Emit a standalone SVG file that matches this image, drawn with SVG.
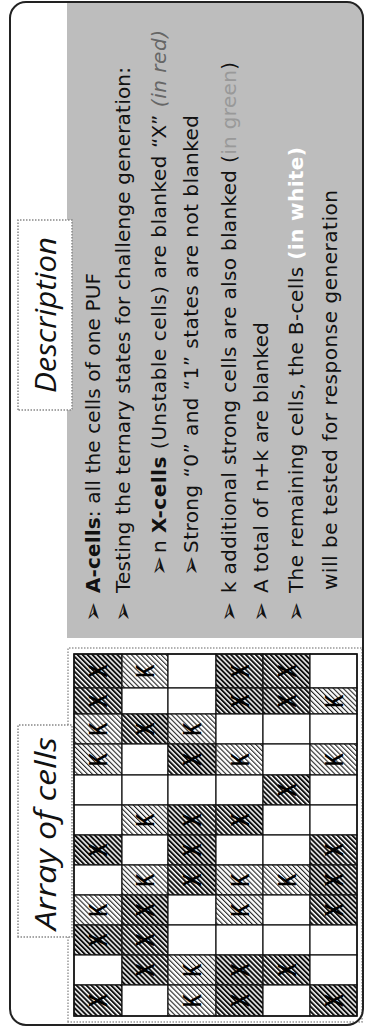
<svg xmlns="http://www.w3.org/2000/svg" width="367" height="1029" viewBox="0 0 367 1029">
<defs>
<pattern id="hx" width="3.5" height="3.5" patternUnits="userSpaceOnUse" patternTransform="rotate(45)">
<rect width="3.5" height="3.5" fill="#fff"/><rect width="2.0" height="3.5" fill="#111"/>
</pattern>
<pattern id="hk" width="3.5" height="3.5" patternUnits="userSpaceOnUse" patternTransform="rotate(45)">
<rect width="3.5" height="3.5" fill="#fff"/><rect width="1.1" height="3.5" fill="#222"/>
</pattern>
<clipPath id="outerClip"><rect x="4" y="10" width="1023" height="353" rx="16"/></clipPath>
</defs>
<style>
.t{font-family:"DejaVu Sans","Liberation Sans",sans-serif;font-size:20px;fill:#111}
.b{font-weight:bold}
.bul{font-family:"DejaVu Sans","Liberation Sans",sans-serif;font-size:24px;fill:#111}
.title{font-family:"Open Sans","Liberation Sans",sans-serif;font-style:italic;font-size:30px;fill:#111}
.box{fill:#fff;stroke:#888;stroke-width:1.5;stroke-dasharray:1.5 1.5}
.c{stroke:#111;stroke-width:1.2}
.w{fill:#fff}.x{fill:url(#hx)}.k{fill:url(#hk)}
.lt{font-family:"Liberation Sans","DejaVu Sans",sans-serif;font-weight:bold;font-size:26px;fill:#000;text-anchor:middle}
</style>
<g transform="translate(0,1029) rotate(-90)">
<g id="frame">
<rect x="4" y="10" width="1023" height="353" rx="16" fill="#fff"/>
<rect x="391" y="67" width="640" height="300" fill="#bdbdbd" clip-path="url(#outerClip)"/>
<rect x="7" y="68" width="374" height="294" fill="#fff" stroke="#999" stroke-width="1.5" stroke-dasharray="1.5 1.5"/>
<rect x="4" y="10" width="1023" height="353" rx="16" fill="none" stroke="#222" stroke-width="2"/>
</g>
<g id="title-array">
<rect class="box" x="92" y="18" width="212" height="54"/>
<text class="title" x="99" y="56" textLength="193" lengthAdjust="spacingAndGlyphs">Array of cells</text>
</g>
<g id="title-description">
<rect class="box" x="619" y="18" width="190" height="54"/>
<text class="title" x="636" y="56" textLength="156" lengthAdjust="spacingAndGlyphs">Description</text>
</g>
<g id="array">
<rect class="c x" x="341" y="74" width="34" height="48"/><rect class="c k" x="341" y="122" width="34" height="46"/><rect class="c w" x="341" y="168" width="34" height="48"/><rect class="c x" x="341" y="216" width="34" height="47"/><rect class="c x" x="341" y="263" width="34" height="47"/><rect class="c w" x="341" y="310" width="34" height="47"/>
<rect class="c x" x="315" y="74" width="26" height="48"/><rect class="c w" x="315" y="122" width="26" height="46"/><rect class="c w" x="315" y="168" width="26" height="48"/><rect class="c x" x="315" y="216" width="26" height="47"/><rect class="c x" x="315" y="263" width="26" height="47"/><rect class="c k" x="315" y="310" width="26" height="47"/>
<rect class="c k" x="285" y="74" width="30" height="48"/><rect class="c x" x="285" y="122" width="30" height="46"/><rect class="c k" x="285" y="168" width="30" height="48"/><rect class="c w" x="285" y="216" width="30" height="47"/><rect class="c w" x="285" y="263" width="30" height="47"/><rect class="c w" x="285" y="310" width="30" height="47"/>
<rect class="c k" x="254" y="74" width="31" height="48"/><rect class="c w" x="254" y="122" width="31" height="46"/><rect class="c x" x="254" y="168" width="31" height="48"/><rect class="c k" x="254" y="216" width="31" height="47"/><rect class="c w" x="254" y="263" width="31" height="47"/><rect class="c k" x="254" y="310" width="31" height="47"/>
<rect class="c w" x="224" y="74" width="30" height="48"/><rect class="c w" x="224" y="122" width="30" height="46"/><rect class="c w" x="224" y="168" width="30" height="48"/><rect class="c w" x="224" y="216" width="30" height="47"/><rect class="c x" x="224" y="263" width="30" height="47"/><rect class="c w" x="224" y="310" width="30" height="47"/>
<rect class="c w" x="194" y="74" width="30" height="48"/><rect class="c k" x="194" y="122" width="30" height="46"/><rect class="c x" x="194" y="168" width="30" height="48"/><rect class="c x" x="194" y="216" width="30" height="47"/><rect class="c w" x="194" y="263" width="30" height="47"/><rect class="c w" x="194" y="310" width="30" height="47"/>
<rect class="c x" x="164" y="74" width="30" height="48"/><rect class="c w" x="164" y="122" width="30" height="46"/><rect class="c x" x="164" y="168" width="30" height="48"/><rect class="c w" x="164" y="216" width="30" height="47"/><rect class="c w" x="164" y="263" width="30" height="47"/><rect class="c x" x="164" y="310" width="30" height="47"/>
<rect class="c w" x="134" y="74" width="30" height="48"/><rect class="c k" x="134" y="122" width="30" height="46"/><rect class="c x" x="134" y="168" width="30" height="48"/><rect class="c k" x="134" y="216" width="30" height="47"/><rect class="c k" x="134" y="263" width="30" height="47"/><rect class="c x" x="134" y="310" width="30" height="47"/>
<rect class="c k" x="104" y="74" width="30" height="48"/><rect class="c x" x="104" y="122" width="30" height="46"/><rect class="c w" x="104" y="168" width="30" height="48"/><rect class="c k" x="104" y="216" width="30" height="47"/><rect class="c w" x="104" y="263" width="30" height="47"/><rect class="c x" x="104" y="310" width="30" height="47"/>
<rect class="c x" x="74" y="74" width="30" height="48"/><rect class="c x" x="74" y="122" width="30" height="46"/><rect class="c w" x="74" y="168" width="30" height="48"/><rect class="c w" x="74" y="216" width="30" height="47"/><rect class="c w" x="74" y="263" width="30" height="47"/><rect class="c w" x="74" y="310" width="30" height="47"/>
<rect class="c w" x="44" y="74" width="30" height="48"/><rect class="c x" x="44" y="122" width="30" height="46"/><rect class="c k" x="44" y="168" width="30" height="48"/><rect class="c x" x="44" y="216" width="30" height="47"/><rect class="c x" x="44" y="263" width="30" height="47"/><rect class="c w" x="44" y="310" width="30" height="47"/>
<rect class="c x" x="13" y="74" width="31" height="48"/><rect class="c w" x="13" y="122" width="31" height="46"/><rect class="c k" x="13" y="168" width="31" height="48"/><rect class="c x" x="13" y="216" width="31" height="47"/><rect class="c w" x="13" y="263" width="31" height="47"/><rect class="c x" x="13" y="310" width="31" height="47"/>
<rect x="13" y="74" width="362" height="283" fill="none" stroke="#111" stroke-width="1.5"/>
<g id="letters">
<text class="lt" x="358" y="107" textLength="13" lengthAdjust="spacingAndGlyphs">X</text><text class="lt" x="358" y="154" textLength="13" lengthAdjust="spacingAndGlyphs">K</text><text class="lt" x="358" y="248.5" textLength="13" lengthAdjust="spacingAndGlyphs">X</text><text class="lt" x="358" y="295.5" textLength="13" lengthAdjust="spacingAndGlyphs">X</text>
<text class="lt" x="328" y="107" textLength="13" lengthAdjust="spacingAndGlyphs">X</text><text class="lt" x="328" y="248.5" textLength="13" lengthAdjust="spacingAndGlyphs">X</text><text class="lt" x="328" y="295.5" textLength="13" lengthAdjust="spacingAndGlyphs">X</text><text class="lt" x="328" y="342.5" textLength="13" lengthAdjust="spacingAndGlyphs">K</text>
<text class="lt" x="300" y="107" textLength="13" lengthAdjust="spacingAndGlyphs">K</text><text class="lt" x="300" y="154" textLength="13" lengthAdjust="spacingAndGlyphs">X</text><text class="lt" x="300" y="201" textLength="13" lengthAdjust="spacingAndGlyphs">K</text>
<text class="lt" x="269.5" y="107" textLength="13" lengthAdjust="spacingAndGlyphs">K</text><text class="lt" x="269.5" y="201" textLength="13" lengthAdjust="spacingAndGlyphs">X</text><text class="lt" x="269.5" y="248.5" textLength="13" lengthAdjust="spacingAndGlyphs">K</text><text class="lt" x="269.5" y="342.5" textLength="13" lengthAdjust="spacingAndGlyphs">K</text>
<text class="lt" x="239" y="295.5" textLength="13" lengthAdjust="spacingAndGlyphs">X</text>
<text class="lt" x="209" y="154" textLength="13" lengthAdjust="spacingAndGlyphs">K</text><text class="lt" x="209" y="201" textLength="13" lengthAdjust="spacingAndGlyphs">X</text><text class="lt" x="209" y="248.5" textLength="13" lengthAdjust="spacingAndGlyphs">X</text>
<text class="lt" x="179" y="107" textLength="13" lengthAdjust="spacingAndGlyphs">X</text><text class="lt" x="179" y="201" textLength="13" lengthAdjust="spacingAndGlyphs">X</text><text class="lt" x="179" y="342.5" textLength="13" lengthAdjust="spacingAndGlyphs">X</text>
<text class="lt" x="149" y="154" textLength="13" lengthAdjust="spacingAndGlyphs">K</text><text class="lt" x="149" y="201" textLength="13" lengthAdjust="spacingAndGlyphs">X</text><text class="lt" x="149" y="248.5" textLength="13" lengthAdjust="spacingAndGlyphs">K</text><text class="lt" x="149" y="295.5" textLength="13" lengthAdjust="spacingAndGlyphs">K</text><text class="lt" x="149" y="342.5" textLength="13" lengthAdjust="spacingAndGlyphs">X</text>
<text class="lt" x="119" y="107" textLength="13" lengthAdjust="spacingAndGlyphs">K</text><text class="lt" x="119" y="154" textLength="13" lengthAdjust="spacingAndGlyphs">X</text><text class="lt" x="119" y="248.5" textLength="13" lengthAdjust="spacingAndGlyphs">K</text><text class="lt" x="119" y="342.5" textLength="13" lengthAdjust="spacingAndGlyphs">X</text>
<text class="lt" x="89" y="107" textLength="13" lengthAdjust="spacingAndGlyphs">X</text><text class="lt" x="89" y="154" textLength="13" lengthAdjust="spacingAndGlyphs">X</text>
<text class="lt" x="59" y="154" textLength="13" lengthAdjust="spacingAndGlyphs">X</text><text class="lt" x="59" y="201" textLength="13" lengthAdjust="spacingAndGlyphs">K</text><text class="lt" x="59" y="248.5" textLength="13" lengthAdjust="spacingAndGlyphs">X</text><text class="lt" x="59" y="295.5" textLength="13" lengthAdjust="spacingAndGlyphs">X</text>
<text class="lt" x="28.5" y="107" textLength="13" lengthAdjust="spacingAndGlyphs">X</text><text class="lt" x="28.5" y="201" textLength="13" lengthAdjust="spacingAndGlyphs">K</text><text class="lt" x="28.5" y="248.5" textLength="13" lengthAdjust="spacingAndGlyphs">X</text><text class="lt" x="28.5" y="342.5" textLength="13" lengthAdjust="spacingAndGlyphs">X</text>
</g>
</g>
<g id="description">
<text class="bul" x="407" y="101">➢</text>
<text class="t" x="436" y="100" textLength="320"><tspan class="b">A-cells</tspan>: all the cells of one PUF</text>
<text class="bul" x="407" y="131">➢</text>
<text class="t" x="436" y="130" textLength="526">Testing the ternary states for challenge generation:</text>
<text class="bul" x="453" y="167">➢</text>
<text class="t" x="476" y="166" textLength="523">n <tspan class="b">X-cells</tspan> (Unstable cells) are blanked “X” <tspan fill="#666" font-style="italic">(in red)</tspan></text>
<text class="bul" x="453" y="199">➢</text>
<text class="t" x="476" y="198" textLength="438">Strong “0” and “1” states are not blanked</text>
<text class="bul" x="407" y="237">➢</text>
<text class="t" x="436" y="236" textLength="531">k additional strong cells are also blanked (<tspan fill="#999">in green</tspan>)</text>
<text class="bul" x="407" y="269">➢</text>
<text class="t" x="436" y="268" textLength="271">A total of n+k are blanked</text>
<text class="bul" x="407" y="304">➢</text>
<text class="t" x="436" y="303" textLength="446">The remaining cells, the B-cells <tspan class="b" fill="#fff">(in white)</tspan></text>
<text class="t" x="439" y="337" textLength="400">will be tested for response generation</text>
</g>
</g>
</svg>
